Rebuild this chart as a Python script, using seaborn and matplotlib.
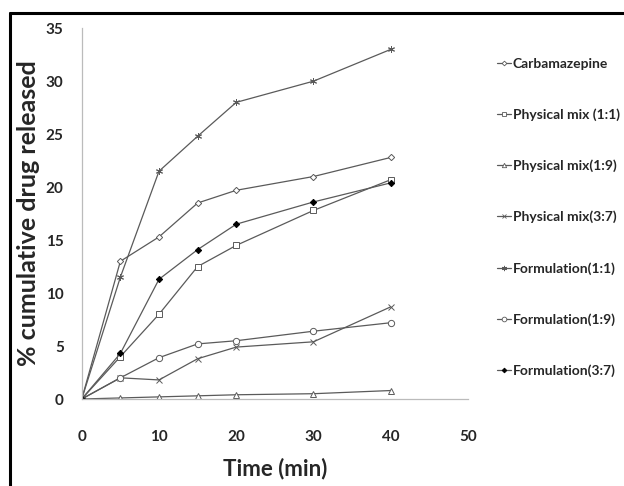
import matplotlib
matplotlib.use("Agg")
import matplotlib.pyplot as plt
import seaborn as sns
import pandas as pd
from matplotlib.lines import Line2D

time_min = [0, 5, 10, 15, 20, 30, 40]
carbamazepine = [0, 13.0, 15.3, 18.5, 19.7, 21.0, 22.8]
physical_mix_1_1 = [0, 4.0, 8.0, 12.5, 14.5, 17.8, 20.7]
physical_mix_1_9 = [0, 0.1, 0.2, 0.3, 0.4, 0.5, 0.8]
physical_mix_3_7 = [0, 2.0, 1.8, 3.8, 4.9, 5.4, 8.7]
formulation_1_1 = [0, 11.5, 21.5, 24.8, 28.0, 30.0, 33.0]
formulation_1_9 = [0, 2.0, 3.9, 5.2, 5.5, 6.4, 7.2]
formulation_3_7 = [0, 4.3, 11.3, 14.1, 16.5, 18.6, 20.4]

series_names = ["Carbamazepine", "Physical mix (1:1)", "Physical mix(1:9)",
                "Physical mix(3:7)", "Formulation(1:1)", "Formulation(1:9)",
                "Formulation(3:7)"]
series_values = [carbamazepine, physical_mix_1_1, physical_mix_1_9,
                 physical_mix_3_7, formulation_1_1, formulation_1_9,
                 formulation_3_7]

x_ticks = [0, 10, 20, 30, 40, 50]
y_ticks = [0, 5, 10, 15, 20, 25, 30, 35]

sns.set_theme(style="white")
plt.rcParams['font.family'] = ['Lato', 'DejaVu Sans']

fig = plt.figure(figsize=(6.24, 4.86), dpi=100)
ax = fig.add_axes([0.131, 0.179, 0.619, 0.763])

line_color = "#5a5a5a"
styles = [
    dict(marker="D", markersize=3.2, markerfacecolor="white"),
    dict(marker="s", markersize=4.5, markerfacecolor="white"),
    dict(marker="^", markersize=4.2, markerfacecolor="white"),
    dict(marker="x", markersize=4.5, markerfacecolor="none"),
    dict(marker=(6, 2, 0), markersize=5, markerfacecolor="none"),
    dict(marker="o", markersize=4.5, markerfacecolor="white"),
    dict(marker="D", markersize=3.2, markerfacecolor="black", markeredgecolor="black"),
]

rows = []
for name, vals in zip(series_names, series_values):
    for t, v in zip(time_min, vals):
        rows.append({"Time": t, "Release": v, "Series": name})
df = pd.DataFrame(rows)

handles = []
for name, st in zip(series_names, styles):
    sub = df[df["Series"] == name]
    kw = dict(st)
    kw.setdefault("markeredgecolor", line_color)
    sns.lineplot(data=sub, x="Time", y="Release", ax=ax, color=line_color,
                 linewidth=0.9, markeredgewidth=0.7, legend=False, **kw)
    hk = dict(kw)
    hk["markersize"] = kw["markersize"] * 0.75
    handles.append(Line2D([0], [0], color=line_color, linewidth=0.9,
                          markeredgewidth=0.6, label=name, **hk))

ax.set_xlim(0, 50)
ax.set_ylim(0, 35)
ax.set_xticks(x_ticks)
ax.set_yticks(y_ticks)
ax.set_xticklabels([str(v) for v in x_ticks], fontsize=11, fontweight="bold")
ax.set_yticklabels([str(v) for v in y_ticks], fontsize=11, fontweight="bold")
ax.tick_params(axis="x", length=0, pad=22)
ax.tick_params(axis="y", length=0, pad=13)
for side in ["top", "right"]:
    ax.spines[side].set_visible(False)
for side in ["left", "bottom"]:
    ax.spines[side].set_color("#bbbbbb")
    ax.spines[side].set_linewidth(0.9)
ax.set_xlabel("Time (min)", fontsize=16, fontweight="bold", labelpad=10)
ax.set_ylabel("% cumulative drug released", fontsize=18, fontweight="bold", labelpad=4)
ax.grid(False)

fig.legend(handles=handles, loc="upper left", bbox_to_anchor=(0.787, 0.893),
           frameon=False, handlelength=1.0, handletextpad=0.15,
           labelspacing=2.78, borderaxespad=0, prop={"weight": "bold", "size": 10})

# outer frame (top and left edges visible)
fig.add_artist(Line2D([0.016, 1.0], [0.973, 0.973], transform=fig.transFigure,
                      color="black", linewidth=2.2))
fig.add_artist(Line2D([0.016, 0.016], [0.0, 0.973], transform=fig.transFigure,
                      color="black", linewidth=2.2))

fig.savefig("out.png", dpi=100, facecolor="white")
